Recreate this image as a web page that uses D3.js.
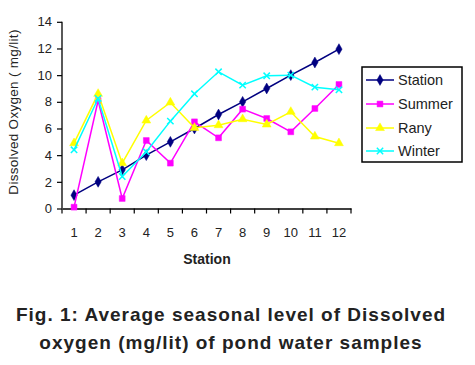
<!DOCTYPE html>
<html>
<head>
<meta charset="utf-8">
<script src="https://cdn.jsdelivr.net/npm/d3@7"></script>
<style>
  body { margin: 0; background: #fff; }
  text { font-family: "Liberation Sans", Arial, sans-serif; }
</style>
</head>
<body>
<div id="chart"></div>
<script>
// Chart data
const stations = ["1", "2", "3", "4", "5", "6", "7", "8", "9", "10", "11", "12"];
const station = [1, 2, 2.9, 4, 5, 6, 7.05, 8, 9, 10, 10.95, 11.95];
const summer = [0.1, 8.1, 0.75, 5.1, 3.4, 6.5, 5.3, 7.45, 6.75, 5.75, 7.5, 9.3];
const rany = [4.9, 8.6, 3.4, 6.6, 7.95, 6.05, 6.25, 6.7, 6.3, 7.25, 5.4, 4.9];
const winter = [4.4, 8.25, 2.4, 4.25, 6.55, 8.6, 10.25, 9.25, 9.95, 10, 9.1, 8.9];
const yTicks = [0, 2, 4, 6, 8, 10, 12, 14];

const seriesNames = ["Station", "Summer", "Rany", "Winter"];
const seriesValues = [station, summer, rany, winter];
const seriesColors = ["#000080", "#ff00ff", "#ffff00", "#00ffff"];
const seriesSymbols = [d3.symbolDiamond, d3.symbolSquare, d3.symbolTriangle, d3.symbolX];

const w = 475;
const h = 365;

const svg = d3.select("#chart")
              .append("svg")
              .attr("width", w)
              .attr("height", h);

// scales
const xScale = d3.scaleBand()
                 .domain(stations)
                 .range([62, 351]);
const yScale = d3.scaleLinear()
                 .domain([0, 14])
                 .range([208.5, 21.8]);

const xPos = i => xScale(stations[i]) + xScale.bandwidth() / 2;

// axes
const xAxis = d3.axisBottom(xScale).tickSize(0).tickPadding(19);
const gx = svg.append("g")
              .attr("transform", "translate(0,208.5)")
              .call(xAxis);
gx.select(".domain").attr("stroke", "#000").attr("stroke-width", 1.3);
gx.selectAll("text").attr("font-size", 13).attr("fill", "#222");

// category tick marks sit between bands
gx.selectAll("line.sep")
  .data(d3.range(stations.length + 1))
  .enter()
  .append("line")
  .attr("class", "sep")
  .attr("x1", i => 62 + i * xScale.step())
  .attr("x2", i => 62 + i * xScale.step())
  .attr("y1", 0)
  .attr("y2", 5)
  .attr("stroke", "#000")
  .attr("stroke-width", 1.2);

const yAxis = d3.axisLeft(yScale).tickValues(yTicks).tickSize(5).tickPadding(5);
const gy = svg.append("g")
              .attr("transform", "translate(62,0)")
              .call(yAxis);
gy.select(".domain").attr("stroke", "#000").attr("stroke-width", 1.3).attr("d", "M0,21.8V208.5");
gy.selectAll("line").attr("stroke", "#000").attr("stroke-width", 1.2);
gy.selectAll("text").attr("font-size", 13).attr("fill", "#222");

// axis titles
svg.append("text")
   .attr("x", 207)
   .attr("y", 264)
   .attr("text-anchor", "middle")
   .attr("font-size", 14)
   .attr("font-weight", "bold")
   .attr("fill", "#222")
   .text("Station");

svg.append("text")
   .attr("transform", "translate(18,112) rotate(-90)")
   .attr("text-anchor", "middle")
   .attr("font-size", 13.5)
   .attr("letter-spacing", 0.3)
   .attr("fill", "#222")
   .text("Dissolved Oxygen ( mg/lit)");

// lines and markers
const line = d3.line()
               .x((d, i) => xPos(i))
               .y(d => yScale(d));

seriesValues.forEach((vals, s) => {
    svg.append("path")
       .datum(vals)
       .attr("fill", "none")
       .attr("stroke", seriesColors[s])
       .attr("stroke-width", 1.5)
       .attr("d", line);

    const isX = seriesSymbols[s] === d3.symbolX;
    svg.selectAll(null)
       .data(vals)
       .enter()
       .append("path")
       .attr("transform", (d, i) => `translate(${xPos(i)},${yScale(d)})`)
       .attr("d", d3.symbol().type(seriesSymbols[s]).size(isX ? 28 : 34))
       .attr("fill", isX ? "none" : seriesColors[s])
       .attr("stroke", seriesColors[s])
       .attr("stroke-width", isX ? 1.5 : 0.5);
});

// legend
const legend = svg.append("g");
legend.append("rect")
      .attr("x", 362)
      .attr("y", 67)
      .attr("width", 100)
      .attr("height", 95)
      .attr("fill", "#fff")
      .attr("stroke", "#000")
      .attr("stroke-width", 1.5);

const legendY = [80, 104, 128, 151];
seriesNames.forEach((name, s) => {
    const y = legendY[s];
    legend.append("line")
          .attr("x1", 366)
          .attr("x2", 394)
          .attr("y1", y)
          .attr("y2", y)
          .attr("stroke", seriesColors[s])
          .attr("stroke-width", 1.5);
    const isX = seriesSymbols[s] === d3.symbolX;
    legend.append("path")
          .attr("transform", `translate(380,${y})`)
          .attr("d", d3.symbol().type(seriesSymbols[s]).size(isX ? 28 : 34))
          .attr("fill", isX ? "none" : seriesColors[s])
          .attr("stroke", seriesColors[s])
          .attr("stroke-width", isX ? 1.5 : 0.5);
    legend.append("text")
          .attr("x", 398)
          .attr("y", y + 5)
          .attr("font-size", 14.5)
          .attr("fill", "#222")
          .text(name);
});

// caption
const caption = ["Fig. 1: Average seasonal level of Dissolved", "oxygen (mg/lit) of pond water samples"];
svg.selectAll("text.caption")
   .data(caption)
   .enter()
   .append("text")
   .attr("class", "caption")
   .attr("x", 231)
   .attr("y", (d, i) => 321 + i * 28)
   .attr("text-anchor", "middle")
   .attr("font-size", 19)
   .attr("letter-spacing", 1)
   .attr("font-weight", "bold")
   .attr("fill", "#222")
   .text(d => d);
</script>
</body>
</html>
